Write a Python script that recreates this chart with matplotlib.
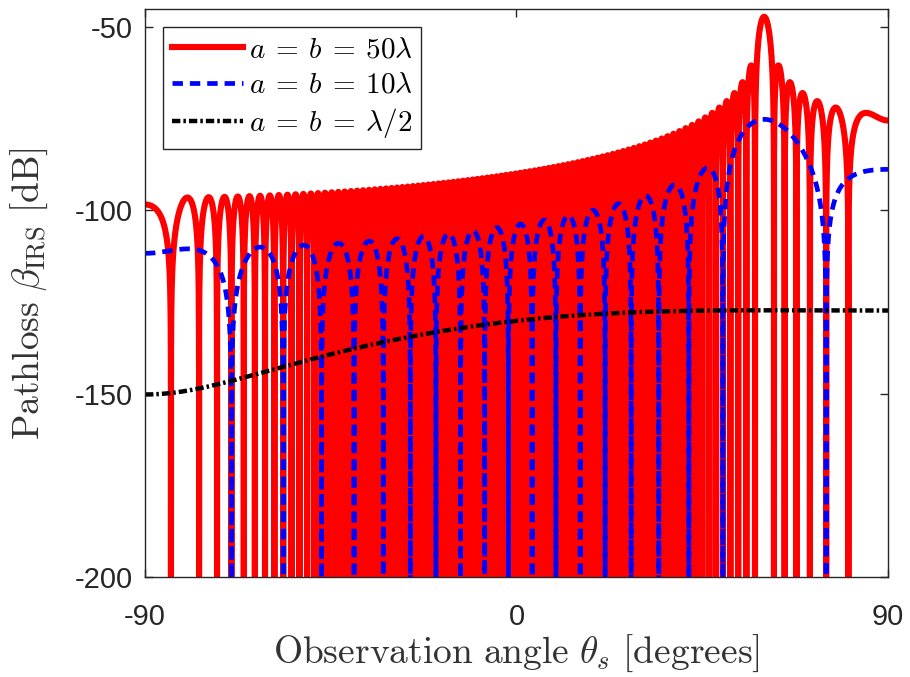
import numpy as np
import matplotlib
matplotlib.use('Agg')
import matplotlib.pyplot as plt

# --- IRS setup (far-field pathloss vs. observation angle) ---
wavelength = 0.1                      # 3 GHz
side_in_wavelengths = [50, 10, 0.5]   # a = b, in units of lambda
d_t = 20.0                            # Tx-IRS distance [m]
d_r = 20.0                            # IRS-Rx distance [m]
theta_i = np.deg2rad(30)              # incidence angle
theta_r = np.deg2rad(60)              # configured reflection angle

labels = [r'$a\:=\:b\:=\:50\lambda$', r'$a\:=\:b\:=\:10\lambda$', r'$a\:=\:b\:=\:\lambda/2$']
colors = ['#ff0000', '#0000ff', '#000000']
styles = [('-', 4.4), ((0, (7.5, 5.0)), 3.4), ((0, (6.0, 2.2, 1.8, 2.2)), 3.2)]

x_ticks = [-90, 0, 90]
y_ticks = [-200, -150, -100, -50]


def pathloss_db(theta_s, a, b):
    # beta_IRS = (ab / (4 pi d_t d_r))^2 cos^2(theta_i) sinc^2(a (sin theta_s - sin theta_r) / lambda)
    gain = (a * b / (4 * np.pi * d_t * d_r)) ** 2 * np.cos(theta_i) ** 2
    pattern = np.sinc(a * (np.sin(theta_s) - np.sin(theta_r)) / wavelength) ** 2
    return 10 * np.log10(np.maximum(gain * pattern, 1e-40))


def angle_grid(a):
    theta = np.linspace(-np.pi / 2, np.pi / 2, 36001)
    # add the exact nulls of the sinc so every dip is resolved
    k = np.arange(-int(2 * a / wavelength) - 2, int(2 * a / wavelength) + 3)
    s = np.sin(theta_r) + k * wavelength / a
    s = s[np.abs(s) < 1]
    return np.sort(np.concatenate([theta, np.arcsin(s)]))


plt.rcParams['axes.unicode_minus'] = False
plt.rcParams['mathtext.fontset'] = 'cm'
plt.rcParams['lines.scale_dashes'] = False

fig = plt.figure(figsize=(9.1, 6.77), dpi=100)
ax = fig.add_axes([0.1593, 0.1477, 0.8165, 0.8385])

for n, c, lab, (ls, lw) in zip(side_in_wavelengths, colors, labels, styles):
    a = n * wavelength
    th = angle_grid(a)
    ax.plot(np.rad2deg(th), pathloss_db(th, a, a), color=c, lw=lw,
            linestyle=ls, label=lab)

ax.set_xlim(-90, 90)
ax.set_ylim(-200, -45.3)
ax.set_xticks(x_ticks)
ax.set_yticks(y_ticks)
ax.tick_params(direction='in', length=6, width=1, top=True, right=True,
               labelsize=21, colors='#262626')
ax.tick_params(axis='x', pad=19)
ax.tick_params(axis='y', pad=9)
for lab in ax.get_xticklabels() + ax.get_yticklabels():
    lab.set_fontfamily('Liberation Sans')
for sp in ax.spines.values():
    sp.set_color('#262626')
    sp.set_linewidth(1.0)

ax.set_xlabel(r'$\mathrm{Observation\ angle\ }\theta_s\ \mathrm{[degrees]}$',
              fontsize=27, color='#333333', labelpad=1)
ax.set_ylabel(r'$\mathrm{Pathloss\ }\beta_{\mathrm{IRS}}\ \mathrm{[dB]}$',
              fontsize=27, color='#333333')
ax.yaxis.set_label_coords(-0.128, 0.5)

leg = ax.legend(loc='upper left', bbox_to_anchor=(0.024, 0.969), borderaxespad=0,
                fontsize=21, handlelength=2.45, handletextpad=0.2,
                labelspacing=0.25, borderpad=0.3, fancybox=False, framealpha=1)
leg.get_frame().set_edgecolor('#262626')
leg.get_frame().set_linewidth(1.0)

fig.savefig('out.png', dpi=100)
